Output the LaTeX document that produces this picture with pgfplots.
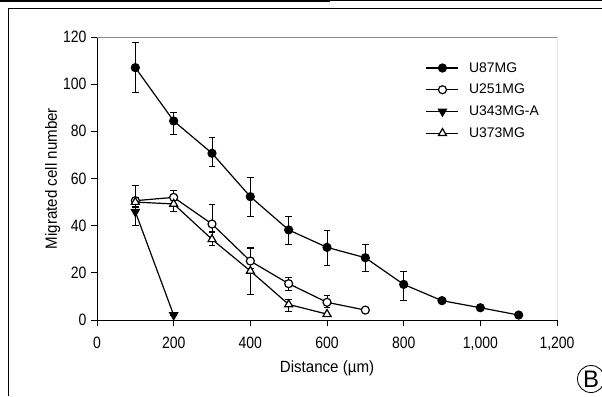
\documentclass[border=0pt]{standalone}
\usepackage{fontspec}
\setmainfont{Liberation Sans}
\newfontfamily\tickfont[FakeStretch=0.85]{Liberation Sans}
\newfontfamily\labfont[FakeStretch=0.93]{Liberation Sans}
\usepackage{pgfplots}
\pgfplotsset{compat=1.18}
\begin{document}
\begin{tikzpicture}[x=1bp,y=1bp]
\useasboundingbox (0,0) rectangle (602,396);
\draw[line width=2bp] (0,395) -- (330,395);
\draw[line width=0.6bp] (330,395.5) -- (602,395.5);
\draw[line width=0.8bp] (8,0) -- (8,388) -- (602,388);
\begin{axis}[
  at={(97bp,76bp)}, anchor=south west,
  scale only axis, width=460bp, height=283bp,
  xmin=0, xmax=1200, ymin=0, ymax=120,
  xtick={0,200,...,1200}, ytick={0,20,...,120},
  axis x line*=bottom, axis y line*=left,
  axis line style={line width=0.8bp},
  tick align=outside, major tick length=6bp,
  tick style={line width=0.8bp, black},
  /pgf/number format/.cd, 1000 sep={,}, assume math mode=true,
  /pgfplots/.cd,
  tick label style={font=\tickfont\fontsize{16.5}{16}\selectfont},
  xticklabel style={yshift=-7bp},
  yticklabel style={xshift=-1bp},
  xlabel={Distance (\textmu m)},
  ylabel={Migrated cell number},
  label style={font=\labfont\fontsize{16.3}{16}\selectfont},
  xlabel style={yshift=-4bp},
  ylabel style={yshift=-4bp},
  legend style={draw=none, fill=none, at={(rel axis cs:0.708,0.925)}, anchor=north west,
    font=\fontsize{14}{14}\selectfont, row sep=6.5bp,
    /tikz/every odd column/.append style={column sep=8bp}},
  legend cell align=left,
  legend image code/.code={\draw[mark repeat=2,mark phase=2] plot coordinates {(0bp,0bp)(16bp,0bp)(32bp,0bp)};},
  every axis plot/.append style={black, line width=1.2bp},
  error bars/error bar style={line width=0.7bp},
  error bars/error mark options={rotate=90, mark size=3.4bp, line width=0.7bp},
]
\addplot[mark=*, mark size=4bp, mark options={fill=black, solid},
  error bars/.cd, y dir=both, y explicit]
  table[x=x, y=y, y error plus=ep, y error minus=em] {
x y ep em
100 107 10.8 10.6
200 84.4 3.5 5.5
300 70.7 6.8 5.7
400 52.3 8.1 8.2
500 38.2 5.6 6.1
600 30.8 7.1 7.5
700 26.4 5.7 5.6
800 15.1 5.7 6.6
900 8.2 1 1
1000 5.2 0.5 0.5
1100 2.1 0.3 0.3
};
\addlegendentry{U87MG}
\addplot[mark=*, mark size=4bp, mark options={fill=white, solid},
  error bars/.cd, y dir=both, y explicit]
  table[x=x, y=y, y error plus=ep, y error minus=em] {
x y ep em
100 50.6 6.6 3
200 52 3.1 3
300 40.7 8.5 3
400 25 5.8 3
500 15.4 2.7 2.7
600 7.5 3 2
700 4.2 0.5 0.5
};
\addlegendentry{U251MG}
\addplot[mark=triangle*, mark size=4.6bp, mark options={fill=black, solid, rotate=180},
  error bars/.cd, y dir=both, y explicit]
  table[x=x, y=y, y error plus=ep, y error minus=em] {
x y ep em
100 45.9 2 5.6
200 2.1 0.3 0.3
};
\addlegendentry{U343MG-A}
\addplot[mark=triangle*, mark size=4.6bp, mark options={fill=white, solid},
  error bars/.cd, y dir=both, y explicit]
  table[x=x, y=y, y error plus=ep, y error minus=em] {
x y ep em
100 50 2 2
200 49.2 3 3.3
300 34.2 3 2.7
400 20.8 9.5 9.8
500 6.6 2 3
600 2.5 0.5 0.5
};
\addlegendentry{U373MG}
\draw[line width=0.8bp] (rel axis cs:1,0) -- (rel axis cs:1,1);
\draw[line width=0.5bp, black!45] (rel axis cs:0,1) -- (rel axis cs:1,1);
\end{axis}
\node[circle, draw, line width=0.8bp, inner sep=1.5bp, font=\fontsize{24}{24}\selectfont] at (591,17) {B};
\end{tikzpicture}
\end{document}
